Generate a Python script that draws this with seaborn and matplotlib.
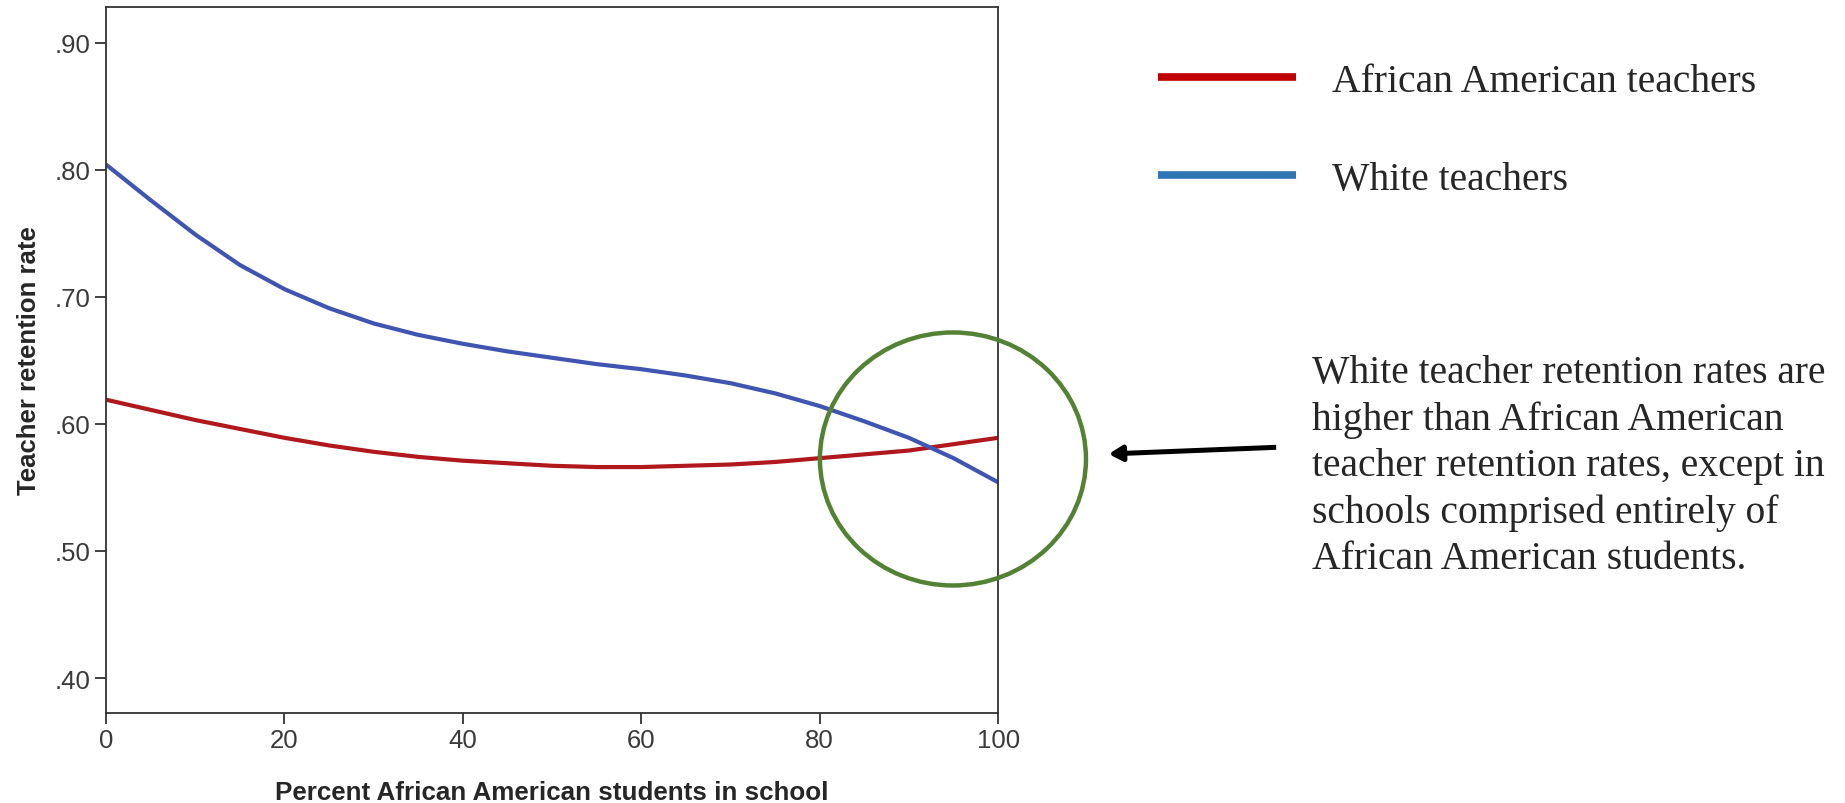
import numpy as np
import pandas as pd
import seaborn as sns
import matplotlib
matplotlib.use("Agg")
import matplotlib.pyplot as plt
from matplotlib.lines import Line2D
from matplotlib.patches import Ellipse

# values
pct_students = [0, 5, 10, 15, 20, 25, 30, 35, 40, 45, 50,
                55, 60, 65, 70, 75, 80, 85, 90, 95, 100]
white_rate = [0.804, 0.776, 0.749, 0.725, 0.706, 0.691, 0.679, 0.670, 0.663, 0.657, 0.652,
              0.647, 0.643, 0.638, 0.632, 0.624, 0.614, 0.602, 0.589, 0.573, 0.554]
black_rate = [0.619, 0.611, 0.603, 0.596, 0.589, 0.583, 0.578, 0.574, 0.571, 0.569, 0.567,
              0.566, 0.566, 0.567, 0.568, 0.570, 0.573, 0.576, 0.579, 0.584, 0.589]
series_names = ["African American teachers", "White teachers"]
y_ticks = [0.40, 0.50, 0.60, 0.70, 0.80, 0.90]
x_ticks = [0, 20, 40, 60, 80, 100]
note = ("White teacher retention rates are\nhigher than African American\n"
        "teacher retention rates, except in\nschools comprised entirely of\n"
        "African American students.")

df = pd.DataFrame({"pct": pct_students,
                   series_names[0]: black_rate,
                   series_names[1]: white_rate})
long = df.melt("pct", var_name="group", value_name="rate")

sns.set_style("white")
plt.rcParams["font.family"] = ["Liberation Sans", "DejaVu Sans"]

fig = plt.figure(figsize=(18.45, 8.04), dpi=100)
ax = fig.add_axes([0.0575, 0.112, 0.4835, 0.878])

sns.lineplot(data=long, x="pct", y="rate", hue="group",
             palette={series_names[0]: "#B0181E", series_names[1]: "#4054B2"},
             linewidth=3, legend=False, ax=ax)

ax.set_xlim(0, 100)
ax.set_ylim(0.3725, 0.928)
ax.set_xticks(x_ticks)
ax.set_xticklabels([str(t) for t in x_ticks])
ax.set_yticks(y_ticks)
ax.set_yticklabels([("%.2f" % t)[1:] for t in y_ticks])
ax.tick_params(axis="both", direction="out", length=8, width=1.3, color="#333333",
               labelsize=18.5, labelcolor="#3a3a3a", pad=3, left=True, bottom=True)
for s in ax.spines.values():
    s.set_color("#333333")
    s.set_linewidth(1.3)

ax.set_xlabel("Percent African American students in school", fontsize=18.7,
              fontweight="bold", labelpad=20)
ax.set_ylabel("Teacher retention rate", fontsize=18.5, fontweight="bold", labelpad=10)

# legend outside the plot
handles = [Line2D([], [], color="#C00000", linewidth=5.5, solid_capstyle="butt"),
           Line2D([], [], color="#2E75B6", linewidth=5.5, solid_capstyle="butt")]
fig.legend(handles, series_names, loc="upper left", bbox_to_anchor=(0.6085, 0.965),
           frameon=False, handlelength=3.47, handletextpad=0.91, labelspacing=1.55,
           prop={"family": "Liberation Serif", "size": 28.5})

# highlight circle and arrow
fig.patches.append(Ellipse((0.5165, 0.4279), 0.1442, 0.3147, transform=fig.transFigure,
                           fill=False, edgecolor="#548235", linewidth=3.2))
ax.annotate("", xy=(0.6008, 0.4341), xycoords="figure fraction",
            xytext=(0.6917, 0.4424), textcoords="figure fraction",
            arrowprops=dict(arrowstyle="-|>,head_length=0.8,head_width=0.45",
                            color="black", linewidth=3.6, shrinkA=0, shrinkB=0,
                            capstyle="butt"))

fig.text(0.711, 0.420, note, ha="left", va="center", fontsize=28.5,
         family="Liberation Serif", linespacing=1.33)

fig.savefig("out.png", dpi=100)
